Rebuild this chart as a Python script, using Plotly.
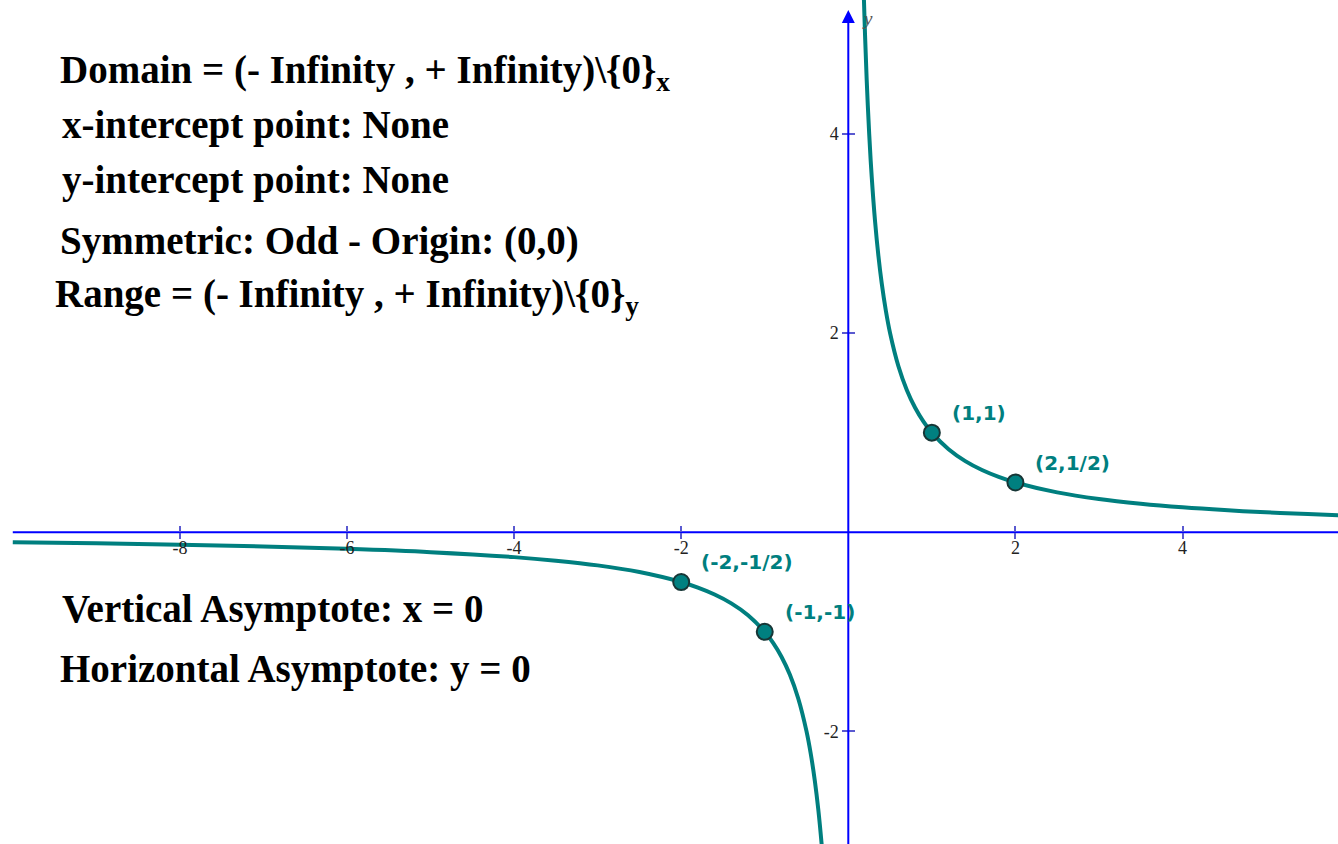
import plotly.graph_objects as go

W, H = 1338, 844

# ---- data ----
right_x = [0.18, 0.187, 0.2, 0.22, 0.25, 0.28, 0.32, 0.36, 0.4, 0.45, 0.5, 0.6, 0.7, 0.8, 0.9, 1.0,
           1.2, 1.4, 1.6, 1.8, 2.0, 2.5, 3.0, 3.5, 4.0, 4.5, 5.0, 5.5, 5.9]
right_y = [5.556, 5.35, 5.0, 4.545, 4.0, 3.571, 3.125, 2.778, 2.5, 2.222, 2.0, 1.667, 1.429, 1.25, 1.111, 1.0,
           0.833, 0.714, 0.625, 0.556, 0.5, 0.4, 0.333, 0.286, 0.25, 0.222, 0.2, 0.182, 0.169]
left_x = [-10.0, -9.0, -8.0, -7.0, -6.0, -5.0, -4.0, -3.5, -3.0, -2.5, -2.0, -1.8, -1.6, -1.4, -1.2, -1.0,
          -0.9, -0.8, -0.7, -0.6, -0.5, -0.45, -0.4, -0.36, -0.32, -0.3]
left_y = [-0.1, -0.111, -0.125, -0.143, -0.167, -0.2, -0.25, -0.286, -0.333, -0.4, -0.5, -0.556, -0.625,
          -0.714, -0.833, -1.0, -1.111, -1.25, -1.429, -1.667, -2.0, -2.222, -2.5, -2.778, -3.125, -3.333]

pt_x = [1, 2, -2, -1]
pt_y = [1, 0.5, -0.5, -1]
pt_labels = ["(1,1)", "(2,1/2)", "(-2,-1/2)", "(-1,-1)"]

x_ticks = [-8, -6, -4, -2, 2, 4]
x_ticktext = ["-8", "-6", "-4", "-2", "2", "4"]
y_ticks = [-2, 2, 4]
y_ticktext = ["-2", "2", "4"]

X_RANGE = [-10.153, 5.861]
Y_RANGE = [-3.131, 5.345]

info_lines = [
    ("Domain = (- Infinity , + Infinity)\\{0}<sub>x</sub>", 58, 72),
    ("x-intercept point: None", 60, 125),
    ("y-intercept point: None", 60, 180),
    ("Symmetric: Odd - Origin: (0,0)", 58, 241),
    ("Range = (- Infinity , + Infinity)\\{0}<sub>y</sub>", 53, 296),
    ("Vertical Asymptote: x = 0", 60, 609),
    ("Horizontal Asymptote: y = 0", 58, 669),
]
# label pixel positions (left edge, vertical centre)
label_pos = [(950, 413), (1033, 463), (699, 562), (783, 612)]

TEAL = "#007f7f"
BLUE = "#0000ff"
TICKC = "#5a5ad0"

fig = go.Figure()
fig.add_trace(go.Scatter(x=left_x, y=left_y, mode="lines", line=dict(color=TEAL, width=4, shape="spline"),
                         hoverinfo="skip", showlegend=False))
fig.add_trace(go.Scatter(x=right_x, y=right_y, mode="lines", line=dict(color=TEAL, width=4, shape="spline"),
                         hoverinfo="skip", showlegend=False))
fig.add_trace(go.Scatter(x=pt_x, y=pt_y, mode="markers",
                         marker=dict(size=16, color="#008080", line=dict(color="#173636", width=2)),
                         showlegend=False))

# x-axis line
fig.add_shape(type="line", x0=-10.0, x1=X_RANGE[1], y0=0, y1=0, xref="x", yref="y",
              line=dict(color=BLUE, width=2), layer="below")
# y-axis with arrow
fig.add_annotation(x=0, y=5.245, ax=0, ay=Y_RANGE[0] - 0.1, xref="x", yref="y", axref="x", ayref="y",
                   text=" ", showarrow=True, arrowhead=2, arrowsize=1.3, arrowwidth=2, arrowcolor=BLUE,
                   standoff=0)
fig.add_annotation(x=867 / W, y=1 - 18 / H, xref="paper", yref="paper", text="<i>y</i>", showarrow=False,
                   font=dict(family="Liberation Serif", size=19, color="#555"), xanchor="center",
                   yanchor="middle")

for txt, px, py in info_lines:
    fig.add_annotation(x=px / W, y=1 - py / H, xref="paper", yref="paper", text="<b>" + txt + "</b>",
                       showarrow=False, xanchor="left", yanchor="middle",
                       font=dict(family="Liberation Serif", size=39, color="#000"))

for txt, (px, py) in zip(pt_labels, label_pos):
    fig.add_annotation(x=px / W, y=1 - py / H, xref="paper", yref="paper", text="<b>" + txt + "</b>",
                       showarrow=False, xanchor="left", yanchor="middle",
                       font=dict(family="DejaVu Sans", size=20, color=TEAL))

xpos = (0 - Y_RANGE[0]) / (Y_RANGE[1] - Y_RANGE[0])
ypos = (0 - X_RANGE[0]) / (X_RANGE[1] - X_RANGE[0])

tickfont = dict(family="Liberation Serif", size=18, color="#222")
fig.update_layout(
    width=W, height=H, margin=dict(l=0, r=0, t=0, b=0),
    paper_bgcolor="white", plot_bgcolor="white", showlegend=False,
    xaxis=dict(range=X_RANGE, anchor="free", position=xpos, tickvals=x_ticks, ticktext=x_ticktext,
               ticks="outside", ticklen=6, tickwidth=1.5, tickcolor=TICKC, showline=False, showgrid=False,
               zeroline=False, tickfont=tickfont, ticklabelstandoff=-7),
    xaxis2=dict(range=X_RANGE, overlaying="x", anchor="free", position=xpos, side="bottom",
                tickvals=x_ticks, ticks="inside", ticklen=6, tickwidth=1.5, tickcolor=TICKC,
                showticklabels=False, showline=False, showgrid=False, zeroline=False),
    yaxis=dict(range=Y_RANGE, anchor="free", position=ypos, tickvals=y_ticks, ticktext=y_ticktext,
               ticks="outside", ticklen=6, tickwidth=1.5, tickcolor=TICKC, showline=False, showgrid=False,
               zeroline=False, tickfont=tickfont),
    yaxis2=dict(range=Y_RANGE, overlaying="y", anchor="free", position=ypos, side="left",
                tickvals=y_ticks, ticks="inside", ticklen=6, tickwidth=1.5, tickcolor=TICKC,
                showticklabels=False, showline=False, showgrid=False, zeroline=False),
)
fig.add_trace(go.Scatter(x=[None], y=[None], xaxis="x2", yaxis="y2", showlegend=False, hoverinfo="skip"))

fig.write_html("out.html", config={"displayModeBar": False},
               post_script="document.body.style.margin='0px';")
